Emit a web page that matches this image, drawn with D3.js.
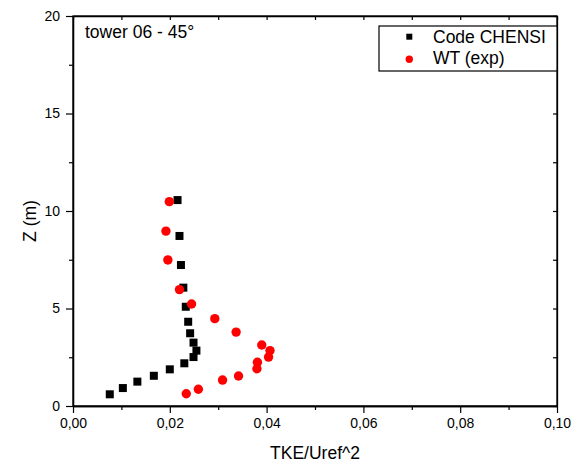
<!DOCTYPE html>
<html><head><meta charset="utf-8">
<script src="https://cdn.jsdelivr.net/npm/d3@7"></script>
<style>body{margin:0;background:#fff}svg{display:block}</style></head>
<body>
<svg id="c" width="582" height="466"></svg>
<script>
// Code CHENSI (black squares)
const chensiTKE = [0.0216, 0.0220, 0.0223, 0.0228, 0.0233, 0.0238, 0.0242, 0.0249, 0.0255, 0.0249, 0.0230, 0.0200, 0.0167, 0.0133, 0.0103, 0.0076];
const chensiZ   = [10.56, 8.72, 7.23, 6.07, 5.09, 4.32, 3.73, 3.25, 2.84, 2.51, 2.19, 1.88, 1.55, 1.25, 0.92, 0.60];
// WT (exp) (red circles)
const expTKE = [0.0199, 0.0192, 0.0196, 0.0220, 0.0245, 0.0293, 0.0337, 0.0390, 0.0407, 0.0404, 0.0381, 0.0380, 0.0342, 0.0309, 0.0259, 0.0234];
const expZ   = [10.48, 8.97, 7.49, 5.97, 5.23, 4.48, 3.79, 3.13, 2.84, 2.51, 2.24, 1.91, 1.54, 1.33, 0.86, 0.63];

const xMajor = [0, 0.02, 0.04, 0.06, 0.08, 0.10];
const xMinor = [0.01, 0.03, 0.05, 0.07, 0.09];
const yMajor = [0, 5, 10, 15, 20];
const yMinor = [2.5, 7.5, 12.5, 17.5];
const seriesNames = ["Code CHENSI", "WT (exp)"];
const annotation = "tower 06 - 45°";
const xTitle = "TKE/Uref^2";
const yTitle = "Z (m)";

const L = 73, R = 557, T = 16, B = 406;
const svg = d3.select("#c");
const font = "'Liberation Sans', Arial, sans-serif";
const x = d3.scaleLinear().domain([0, 0.10]).range([L, R]);
const y = d3.scaleLinear().domain([0, 20]).range([B, T]);
const fmt = d => d3.format(".2f")(d).replace(".", ",");

function styleAxis(g) {
  g.selectAll("path").attr("stroke", "#000").attr("stroke-width", 1.3);
  g.selectAll("line").attr("stroke", "#000").attr("stroke-width", 1.2);
  g.selectAll("text").attr("font-family", font).attr("font-size", 14).attr("fill", "#000");
}

// bottom
svg.append("g").attr("transform", `translate(0,${B})`)
  .call(d3.axisBottom(x).tickValues(xMajor).tickFormat(fmt).tickSize(7).tickSizeOuter(0).tickPadding(5))
  .call(styleAxis);
svg.append("g").attr("transform", `translate(0,${B})`)
  .call(d3.axisBottom(x).tickValues(xMinor).tickFormat("").tickSize(4).tickSizeOuter(0))
  .call(styleAxis);
// left
svg.append("g").attr("transform", `translate(${L},0)`)
  .call(d3.axisLeft(y).tickValues(yMajor).tickFormat(d3.format("d")).tickSize(7).tickSizeOuter(0).tickPadding(6))
  .call(styleAxis);
svg.append("g").attr("transform", `translate(${L},0)`)
  .call(d3.axisLeft(y).tickValues(yMinor).tickFormat("").tickSize(4).tickSizeOuter(0))
  .call(styleAxis);
// top (inward)
svg.append("g").attr("transform", `translate(0,${T})`)
  .call(d3.axisTop(x).tickValues(xMajor.concat(xMinor)).tickFormat("").tickSize(-4).tickSizeOuter(0))
  .call(styleAxis);
// right (inward)
svg.append("g").attr("transform", `translate(${R},0)`)
  .call(d3.axisRight(y).tickValues(yMajor.concat(yMinor)).tickFormat("").tickSize(-4).tickSizeOuter(0))
  .call(styleAxis);

// frame
svg.append("rect").attr("x", L).attr("y", T).attr("width", R - L).attr("height", B - T)
  .attr("fill", "none").attr("stroke", "#000").attr("stroke-width", 1.3);

// data
const chensi = chensiTKE.map((v, i) => ({x: v, z: chensiZ[i]}));
const exp = expTKE.map((v, i) => ({x: v, z: expZ[i]}));
const sq = 8;
svg.append("g").selectAll("rect").data(chensi).join("rect")
  .attr("x", d => x(d.x) - sq / 2).attr("y", d => y(d.z) - sq / 2)
  .attr("width", sq).attr("height", sq).attr("fill", "#000");
svg.append("g").selectAll("circle").data(exp).join("circle")
  .attr("cx", d => x(d.x)).attr("cy", d => y(d.z)).attr("r", 4.7).attr("fill", "#ff0000");

// annotation
svg.append("text").attr("x", 85).attr("y", 38).attr("font-family", font).attr("font-size", 17.5)
  .text(annotation);

// legend
const lg = svg.append("g");
lg.append("rect").attr("x", 379).attr("y", 26).attr("width", R - 379).attr("height", 45)
  .attr("fill", "#fff").attr("stroke", "#000").attr("stroke-width", 1.2);
lg.append("rect").attr("x", 409.3 - 3).attr("y", 36.7 - 3).attr("width", 6).attr("height", 6).attr("fill", "#000");
lg.append("circle").attr("cx", 409.3).attr("cy", 59.3).attr("r", 3.7).attr("fill", "#ff0000");
lg.selectAll("text.lab").data(seriesNames).join("text").attr("class", "lab")
  .attr("x", 433).attr("y", (d, i) => 43 + i * 20.5)
  .attr("font-family", font).attr("font-size", 17.5).text(d => d);

// axis titles
svg.append("text").attr("x", (L + R) / 2).attr("y", 459).attr("text-anchor", "middle")
  .attr("font-family", font).attr("font-size", 17.5).text(xTitle);
svg.append("text").attr("transform", `translate(36,${(T + B) / 2 + 10}) rotate(-90)`)
  .attr("text-anchor", "middle").attr("font-family", font).attr("font-size", 17.5).text(yTitle);
</script>
</body></html>
